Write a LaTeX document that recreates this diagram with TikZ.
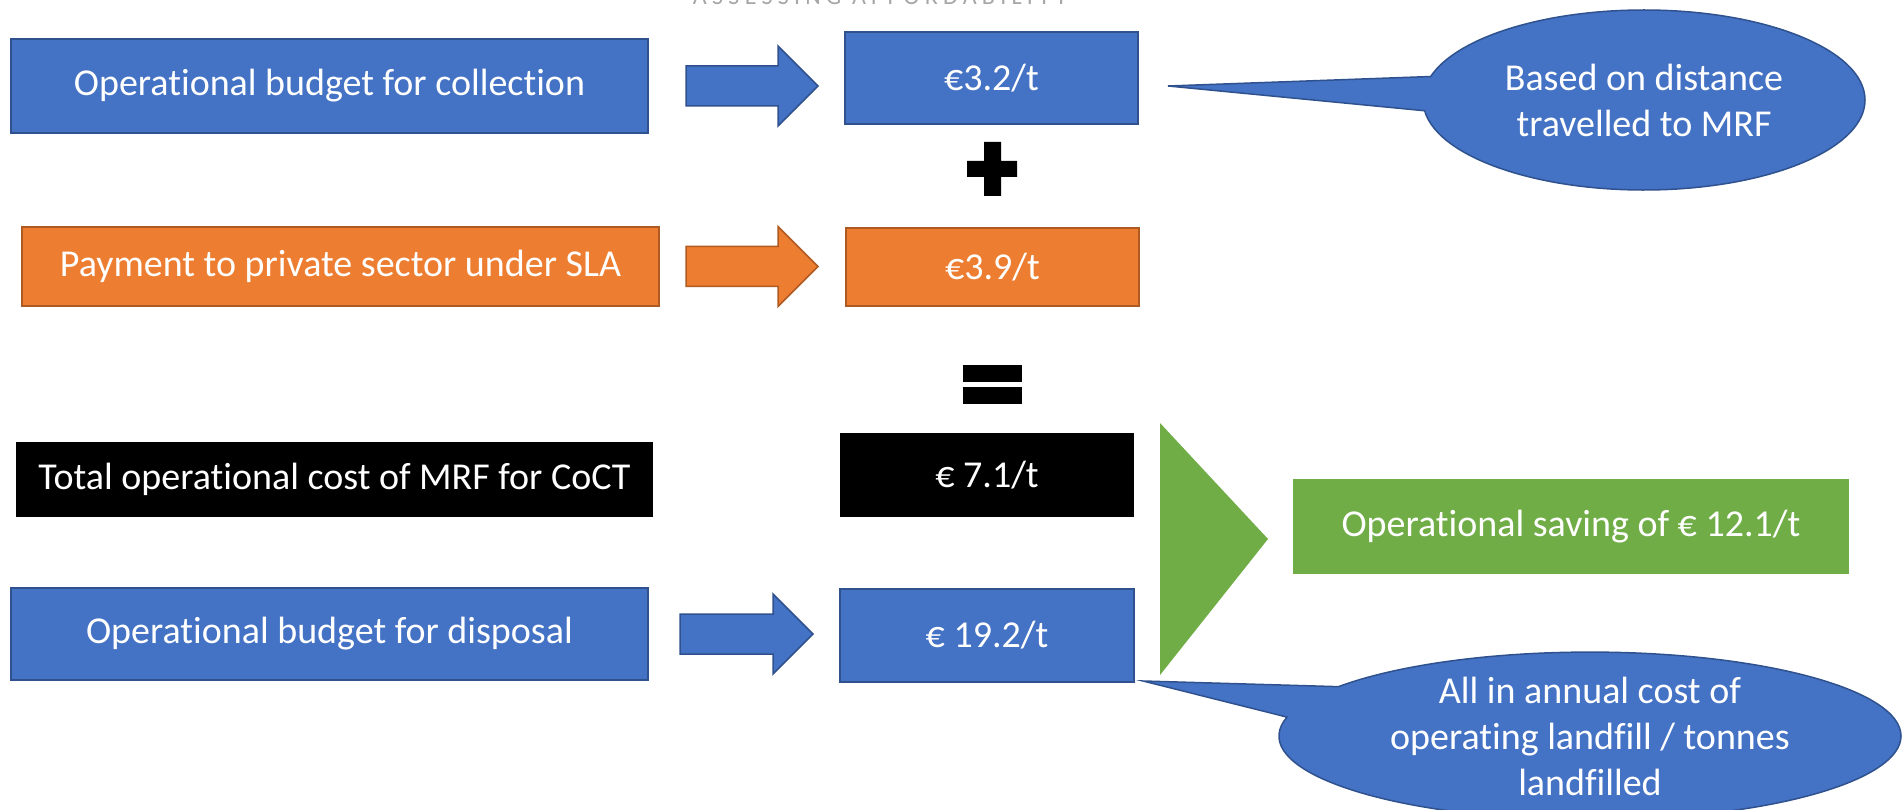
\documentclass[tikz,border=0pt]{standalone}
\usepackage{fontspec}
\setmainfont{Carlito}[RawFeature={-liga;-clig;-calt;-dlig}]
\newfontfamily\headfont[LetterSpace=22,RawFeature={-liga;-clig;-calt;-dlig}]{Carlito}
\usetikzlibrary{calc,shapes.callouts}

\definecolor{boxblue}{HTML}{4472C4}
\definecolor{edgeblue}{HTML}{2F528F}
\definecolor{boxorange}{HTML}{ED7D31}
\definecolor{edgeorange}{HTML}{AE5A21}
\definecolor{boxgreen}{HTML}{70AD47}
\definecolor{headgray}{HTML}{A6A6A6}

\begin{document}
\begin{tikzpicture}[x=1pt,y=-1pt,
  every node/.style={inner sep=0pt,outer sep=0pt},
  label/.style={font=\fontsize{38}{46}\selectfont,text=white,align=center},
  bluebox/.style={label,fill=boxblue,draw=edgeblue,line width=1.5pt},
  orangebox/.style={label,fill=boxorange,draw=edgeorange,line width=1.5pt},
  blackbox/.style={label,fill=black},
  greenbox/.style={label,fill=boxgreen},
  bluecallout/.style={label,ellipse callout,fill=boxblue,draw=edgeblue,line width=1.5pt},
  blockarrow/.style={line width=1.5pt,to path={
    let \p1=(\tikztostart), \p2=(\tikztotarget) in
    (\x1,\y1+20pt) -- (\x2-40pt,\y1+20pt) -- (\x2-40pt,\y1+40pt) -- (\x2,\y1)
    -- (\x2-40pt,\y1-40pt) -- (\x2-40pt,\y1-20pt) -- (\x1,\y1-20pt) -- cycle}},
]
\useasboundingbox (0,0) rectangle (1904,810);

% heading, cut by the top edge
\node[font=\headfont\fontsize{24}{24}\selectfont,text=headgray,anchor=base] (head) at (880,5) {ASSESSING AFFORDABILITY};

% left column
\node[bluebox,minimum width=637pt,minimum height=94pt] (b1) at (329.5,86) {Operational budget for collection};
\node[orangebox,minimum width=637pt,minimum height=79pt] (o1) at (340.5,266.5) {Payment to private sector under SLA};
\node[blackbox,minimum width=637pt,minimum height=75pt] (t1) at (334.5,479.5) {Total operational cost of MRF for CoCT};
\node[bluebox,minimum width=637pt,minimum height=92pt] (b2) at (329.5,634) {Operational budget for disposal};

% values
\node[bluebox,minimum width=293pt,minimum height=92pt] (v1) at (991.5,78) {€3.2/t};
\node[orangebox,minimum width=293pt,minimum height=78pt] (v2) at (992.5,267) {€3.9/t};
\node[blackbox,minimum width=294pt,minimum height=84pt] (v3) at (987,475) {€ 7.1/t};
\node[bluebox,minimum width=294pt,minimum height=93pt] (v4) at (987,635.5) {€ 19.2/t};

% result
\node[greenbox,minimum width=556pt,minimum height=95pt] (g) at (1571,526.5) {Operational saving of € 12.1/t};

% block arrows
\draw[blockarrow,fill=boxblue,draw=edgeblue] ($(b1.east)+(38,0)$) to ($(v1.west)+(-27,0)$);
\draw[blockarrow,fill=boxorange,draw=edgeorange] ($(o1.east)+(27,0)$) to ($(v2.west)+(-28,0)$);
\draw[blockarrow,fill=boxblue,draw=edgeblue] ($(b2.east)+(32,0)$) to ($(v4.west)+(-27,0)$);

% plus and equals signs
\fill (984,142) -- (1001,142) -- (1001,161) -- (1017,161) -- (1017,177) -- (1001,177)
  -- (1001,196) -- (984,196) -- (984,177) -- (967,177) -- (967,161) -- (984,161) -- cycle;
\fill (963,365) rectangle (1022,382);
\fill (963,387) rectangle (1022,404);

% big green arrowhead
\fill[boxgreen] (1160,423) -- (1268,539) -- (1160,675) -- cycle;

% callouts
\coordinate (c1tip) at (1168,86);
\coordinate (c2tip) at (1143,681);
\node[bluecallout,minimum width=442pt,minimum height=180pt,
  callout absolute pointer={(c1tip)},callout pointer arc=22] (c1) at (1644,100)
  {Based on distance\\travelled to MRF};
\node[bluecallout,minimum width=622pt,minimum height=156pt,
  callout absolute pointer={(c2tip)},callout pointer arc=23] (c2) at (1590,736)
  {All in annual cost of\\operating landfill / tonnes\\landfilled};
\end{tikzpicture}
\end{document}
